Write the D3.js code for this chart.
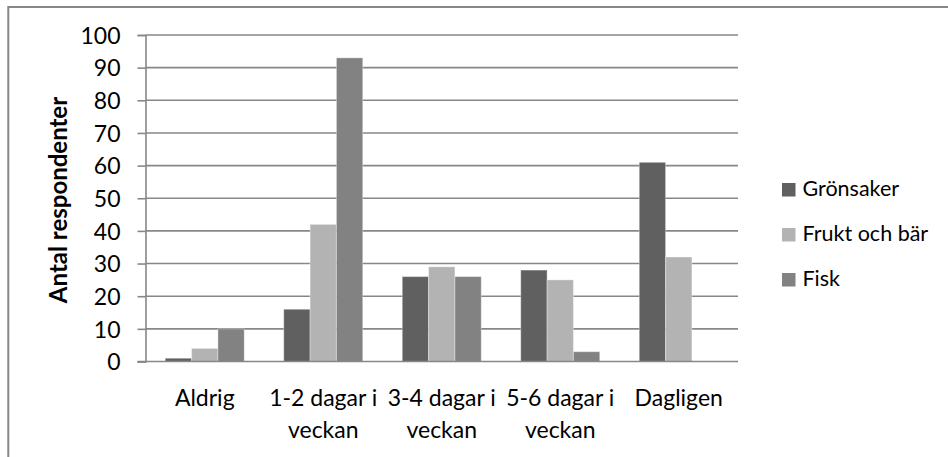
<!DOCTYPE html>
<html>
<head>
<meta charset="utf-8">
<script src="https://cdn.jsdelivr.net/npm/d3@7"></script>
<style>
  html, body { margin: 0; padding: 0; background: #fff; }
  svg { display: block; font-family: Lato, "Open Sans", sans-serif; }
</style>
</head>
<body>
<svg id="chart" width="948" height="457"></svg>
<script>
// Hur ofta respondenterna äter grönsaker, frukt/bär och fisk
const categories = [
  ["Aldrig"],
  ["1-2 dagar i", "veckan"],
  ["3-4 dagar i", "veckan"],
  ["5-6 dagar i", "veckan"],
  ["Dagligen"]
];
const seriesNames = ["Grönsaker", "Frukt och bär", "Fisk"];
const gronsaker = [1, 16, 26, 28, 61];
const fruktOchBar = [4, 42, 29, 25, 32];
const fisk = [10, 93, 26, 3, 0];
const yTicks = [0, 10, 20, 30, 40, 50, 60, 70, 80, 90, 100];
const seriesColors = ["#606060", "#b3b3b3", "#828282"];
const yTitle = "Antal respondenter";

const seriesValues = [gronsaker, fruktOchBar, fisk];

const svg = d3.select("#chart");
const W = 948, H = 457;
const plot = { left: 145.5, right: 738, top: 35, bottom: 361.5 };
const gridColor = "#878787";

svg.append("rect").attr("width", W).attr("height", H).attr("fill", "#fff");

// Chart area frame (right and bottom edges fall outside the canvas)
svg.append("rect")
  .attr("x", 8.3).attr("y", 7)
  .attr("width", W + 20).attr("height", H + 20)
  .attr("fill", "none")
  .attr("stroke", gridColor)
  .attr("stroke-width", 2);

const y = d3.scaleLinear().domain([0, 100]).range([plot.bottom, plot.top]);
const x0 = d3.scaleBand()
  .domain(d3.range(categories.length))
  .range([plot.left, plot.right])
  .paddingInner(1 / 3)
  .paddingOuter(1 / 6);
const x1 = d3.scaleBand()
  .domain(d3.range(seriesNames.length))
  .range([0, x0.bandwidth()]);

// Horizontal gridlines
svg.append("g")
  .selectAll("line")
  .data(yTicks.filter(d => d > 0))
  .join("line")
  .attr("x1", plot.left).attr("x2", plot.right)
  .attr("y1", d => y(d)).attr("y2", d => y(d))
  .attr("stroke", gridColor)
  .attr("stroke-width", 1.6);

// Bars
const groups = svg.append("g")
  .selectAll("g")
  .data(categories.map((c, i) => i))
  .join("g")
  .attr("transform", i => `translate(${x0(i)},0)`);

groups.selectAll("rect")
  .data(i => seriesValues.map((vals, s) => ({ s, v: vals[i] })))
  .join("rect")
  .filter(d => d.v > 0)
  .attr("x", d => x1(d.s))
  .attr("width", x1.bandwidth())
  .attr("y", d => y(d.v))
  .attr("height", d => y(0) - y(d.v))
  .attr("fill", d => seriesColors[d.s])
  .attr("stroke", "rgba(255,255,255,0.35)")
  .attr("stroke-width", 1);

// Y axis
const yAxis = d3.axisLeft(y)
  .tickValues(yTicks)
  .tickSize(8)
  .tickPadding(17)
  .tickFormat(d3.format("d"));
const gy = svg.append("g")
  .attr("transform", `translate(${plot.left},0)`)
  .call(yAxis);
gy.select(".domain").attr("stroke", gridColor).attr("stroke-width", 1.6);
gy.selectAll(".tick line").attr("stroke", gridColor).attr("stroke-width", 1.6);
gy.selectAll(".tick text")
  .attr("fill", "#000")
  .attr("font-family", "Lato, sans-serif")
  .attr("font-size", 23)
  .attr("dy", "0.36em");

// X axis baseline
svg.append("line")
  .attr("x1", plot.left - 8).attr("x2", plot.right)
  .attr("y1", y(0)).attr("y2", y(0))
  .attr("stroke", gridColor)
  .attr("stroke-width", 1.6);

// Category labels (two lines where needed)
const catLabels = svg.append("g")
  .selectAll("text")
  .data(categories.map((c, i) => ({ lines: c, i })))
  .join("text")
  .attr("text-anchor", "middle")
  .attr("font-size", 23)
  .attr("fill", "#000");
catLabels.selectAll("tspan")
  .data(d => d.lines.map((t, k) => ({ t, k, i: d.i })))
  .join("tspan")
  .attr("x", d => x0(d.i) + x0.bandwidth() / 2)
  .attr("y", d => 406 + d.k * 32.3)
  .text(d => d.t);

// Y axis title
svg.append("text")
  .attr("transform", `translate(67,200) rotate(-90)`)
  .attr("text-anchor", "middle")
  .attr("font-size", 24)
  .attr("font-weight", "bold")
  .attr("fill", "#000")
  .text(yTitle);

// Legend
const legend = svg.append("g")
  .selectAll("g")
  .data(seriesNames.map((n, s) => ({ n, s })))
  .join("g")
  .attr("transform", d => `translate(782,${183 + d.s * 45})`);
legend.append("rect")
  .attr("width", 13.5).attr("height", 13.5)
  .attr("fill", d => seriesColors[d.s]);
legend.append("text")
  .attr("x", 20.5).attr("y", 13.2)
  .attr("font-size", 21.5)
  .attr("fill", "#000")
  .text(d => d.n);
</script>
</body>
</html>
